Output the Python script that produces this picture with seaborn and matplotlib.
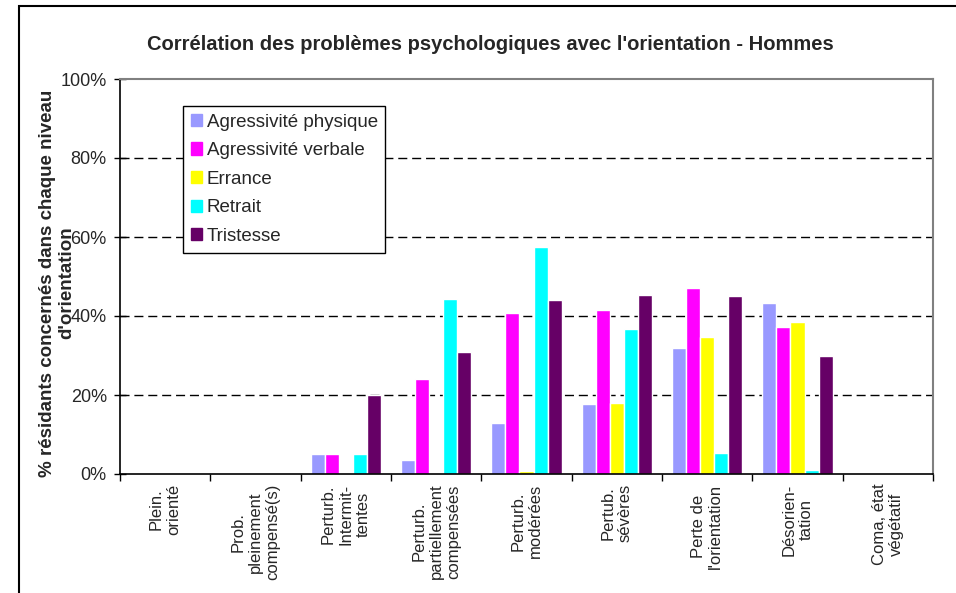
import numpy as np
import pandas as pd
import seaborn as sns
import matplotlib.pyplot as plt
import matplotlib.patches as mpatches

# categories (orientation levels)
categories = ["Plein.\norienté", "Prob.\npleinement\ncompensé(s)", "Perturb.\nIntermit-\ntentes",
              "Perturb.\npartiellement\ncompensées", "Perturb.\nmodérées", "Pertub.\nsévères",
              "Perte de\nl'orientation", "Désorien-\ntation", "Coma, état\nvégétatif"]

series = ["Agressivité physique", "Agressivité verbale", "Errance", "Retrait", "Tristesse"]
colors = ["#9999FF", "#FF00FF", "#FFFF00", "#00FFFF", "#660066"]

# % values
agr_phys = [0, 0, 5.0, 3.5, 13.0, 17.7, 32.0, 43.3, 0]
agr_verb = [0, 0, 5.0, 24.0, 40.8, 41.5, 47.0, 37.2, 0]
errance = [0, 0, 0, 0, 0.7, 18.0, 34.7, 38.5, 0]
retrait = [0, 0, 5.0, 44.3, 57.5, 36.7, 5.3, 1.0, 0]
tristesse = [0, 0, 20.0, 31.0, 44.0, 45.3, 45.0, 30.0, 0]

values = [agr_phys, agr_verb, errance, retrait, tristesse]

rows = []
for s, vals in zip(series, values):
    for c, v in zip(categories, vals):
        rows.append({"cat": c, "serie": s, "val": v})
df = pd.DataFrame(rows)

sns.set_style("white")
plt.rcParams['font.family'] = ['Liberation Sans', 'DejaVu Sans']

fig = plt.figure(figsize=(9.56, 5.93), dpi=100)
ax = fig.add_axes([120/956, 1-474/593, 813/956, 395/593])

sns.barplot(data=df, x="cat", y="val", hue="serie", order=categories, hue_order=series,
            palette=colors, width=0.78, gap=0, saturation=1, errorbar=None, ax=ax)

ax.set_xlim(-0.5, 8.5)
ax.set_ylim(0, 100)
ax.set_yticks([0, 20, 40, 60, 80, 100])
ax.set_yticklabels(["0%", "20%", "40%", "60%", "80%", "100%"], fontsize=13)
for y in [20, 40, 60, 80]:
    ax.axhline(y, color="black", lw=1, ls=(0, (6.5, 3.5)), zorder=0)

# ticks between categories, labels at centers
ax.set_xticks(np.arange(-0.5, 9, 1))
ax.set_xticklabels([])
ax.set_xticks(np.arange(0, 9), minor=True)
ax.set_xticklabels(categories, minor=True, rotation=90, fontsize=12, va="top", ha="center",
                   multialignment="center")
ax.tick_params(axis="x", which="major", direction="out", length=5, width=1, color="black", bottom=True)
ax.tick_params(axis="x", which="minor", length=0, pad=7)
ax.tick_params(axis="y", direction="inout", length=9, width=1, color="black", left=True, pad=5)

ax.set_xlabel("")
ax.set_ylabel("")
for s in ["left", "bottom"]:
    ax.spines[s].set_color("black")
    ax.spines[s].set_linewidth(1.2)
for s in ["top", "right"]:
    ax.spines[s].set_color("#808080")
    ax.spines[s].set_linewidth(1.5)

handles = [mpatches.Patch(color=c, label=s) for c, s in zip(colors, series)]
leg = ax.legend(handles=handles, loc="upper left", bbox_to_anchor=(0.0775, 0.9316),
                borderaxespad=0, fontsize=13.5, handlelength=0.62, handleheight=0.62,
                handletextpad=0.25, labelspacing=0.62, fancybox=False, framealpha=1,
                edgecolor="black", borderpad=0.4)
leg.get_frame().set_linewidth(1)

fig.text(490/956, 1-45/593, "Corrélation des problèmes psychologiques avec l'orientation - Hommes",
         ha="center", va="center", fontsize=14.5, fontweight="bold")
fig.text(57/956, 1-283/593, "% résidants concernés dans chaque niveau\nd'orientation",
         rotation=90, ha="center", va="center", multialignment="center",
         fontsize=13.5, fontweight="bold", linespacing=1.15)

# outer frame of the chart area
fig.patches.append(mpatches.Rectangle((19/956, -0.1), 2, 1-6/593+0.1, transform=fig.transFigure,
                                      fill=False, lw=1.5, edgecolor="black"))

fig.savefig("out.png", dpi=100)
